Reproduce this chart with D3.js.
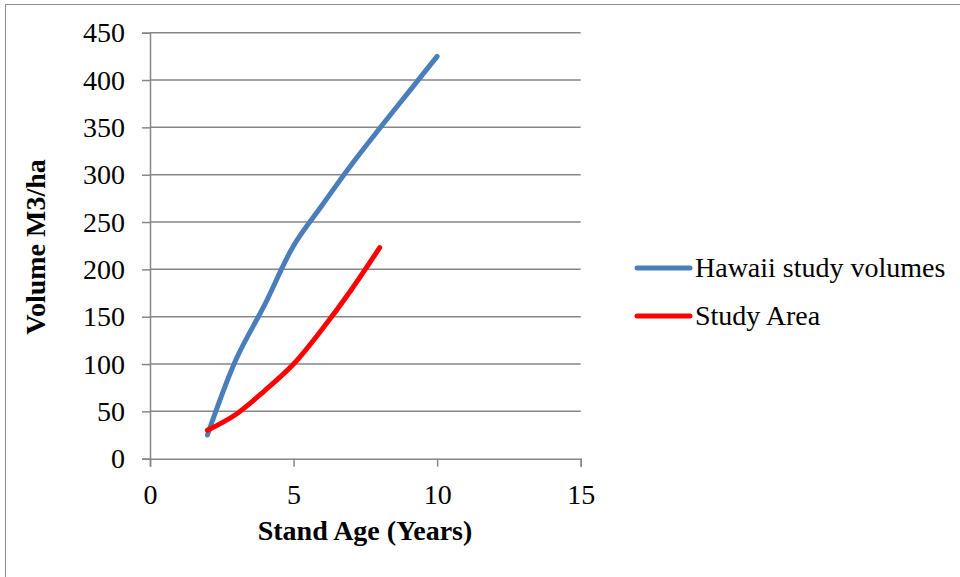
<!DOCTYPE html>
<html>
<head>
<meta charset="utf-8">
<script src="https://cdn.jsdelivr.net/npm/d3@7"></script>
<style>
  html, body { margin: 0; padding: 0; background: #fff; }
  svg { display: block; }
  text { font-family: "Liberation Serif", "DejaVu Serif", serif; fill: #000; }
</style>
</head>
<body>
<svg id="chart" width="960" height="577"></svg>
<script>
// Stand age (years) and volume (m3/ha) for each series
const hawaiiAge = [2, 3, 4, 5, 6, 7, 8, 9, 10];
const hawaiiVolume = [25, 105, 163, 225, 268, 310, 349, 387, 425];
const studyAge = [2, 3, 4, 5, 6, 7, 8];
const studyVolume = [30, 47, 72, 100, 137, 178, 223];

const seriesNames = ["Hawaii study volumes", "Study Area"];
const seriesColors = ["#4a7ebb", "#ff0000"];
const xTicks = [0, 5, 10, 15];
const yTicks = [0, 50, 100, 150, 200, 250, 300, 350, 400, 450];

const svg = d3.select("#chart");
const gridColor = "#868686";
const fontSize = 28;

// outer chart frame
svg.append("rect")
  .attr("x", 5.5).attr("y", 4.5)
  .attr("width", 1000).attr("height", 1000)
  .attr("fill", "none").attr("stroke", "#8c8c8c").attr("stroke-width", 1);

const plot = { left: 150, right: 580.7, top: 32.7, bottom: 458.7 };

const x = d3.scaleLinear().domain([0, 15]).range([plot.left, plot.right]);
const y = d3.scaleLinear().domain([0, 450]).range([plot.bottom, plot.top]);

// horizontal gridlines
svg.append("g")
  .selectAll("line")
  .data(yTicks.filter(d => d > 0))
  .join("line")
  .attr("x1", plot.left).attr("x2", plot.right)
  .attr("y1", d => y(d)).attr("y2", d => y(d))
  .attr("stroke", gridColor).attr("stroke-width", 1.5);

// y axis
const yAxis = svg.append("g")
  .attr("transform", `translate(${plot.left},0)`)
  .call(d3.axisLeft(y).tickValues(yTicks).tickSize(8).tickPadding(17));
yAxis.select(".domain").attr("stroke", gridColor).attr("stroke-width", 1.5);
yAxis.selectAll(".tick line").attr("stroke", gridColor).attr("stroke-width", 1.5);
yAxis.selectAll(".tick text")
  .style("font-family", "'Liberation Serif', serif")
  .attr("font-size", fontSize);

// x axis
const xAxis = svg.append("g")
  .attr("transform", `translate(0,${plot.bottom})`)
  .call(d3.axisBottom(x).tickValues(xTicks).tickSize(8).tickPadding(17));
xAxis.select(".domain").attr("stroke", gridColor).attr("stroke-width", 1.5);
xAxis.selectAll(".tick line").attr("stroke", gridColor).attr("stroke-width", 1.5);
xAxis.selectAll(".tick text")
  .style("font-family", "'Liberation Serif', serif")
  .attr("font-size", fontSize);

// axis titles
svg.append("text")
  .attr("x", 365).attr("y", 540)
  .attr("text-anchor", "middle")
  .attr("font-size", fontSize).attr("font-weight", "bold")
  .text("Stand Age (Years)");

svg.append("text")
  .attr("transform", "translate(45,247) rotate(-90)")
  .attr("text-anchor", "middle")
  .attr("font-size", fontSize).attr("font-weight", "bold")
  .text("Volume M3/ha");

// smoothed series lines
const line = d3.line()
  .x(d => x(d[0]))
  .y(d => y(d[1]))
  .curve(d3.curveCatmullRom.alpha(0.5));

const series = [
  d3.zip(hawaiiAge, hawaiiVolume),
  d3.zip(studyAge, studyVolume)
];

svg.append("g")
  .selectAll("path")
  .data(series)
  .join("path")
  .attr("d", line)
  .attr("fill", "none")
  .attr("stroke", (d, i) => seriesColors[i])
  .attr("stroke-width", 5)
  .attr("stroke-linecap", "round")
  .attr("stroke-linejoin", "round");

// legend
const legend = svg.append("g")
  .selectAll("g")
  .data(seriesNames)
  .join("g")
  .attr("transform", (d, i) => `translate(637,${268 + i * 48})`);

legend.append("line")
  .attr("x1", 0).attr("x2", 53)
  .attr("y1", 0).attr("y2", 0)
  .attr("stroke", (d, i) => seriesColors[i])
  .attr("stroke-width", 5)
  .attr("stroke-linecap", "round");

legend.append("text")
  .attr("x", 58).attr("y", 9)
  .attr("font-size", fontSize)
  .text(d => d);
</script>
</body>
</html>
